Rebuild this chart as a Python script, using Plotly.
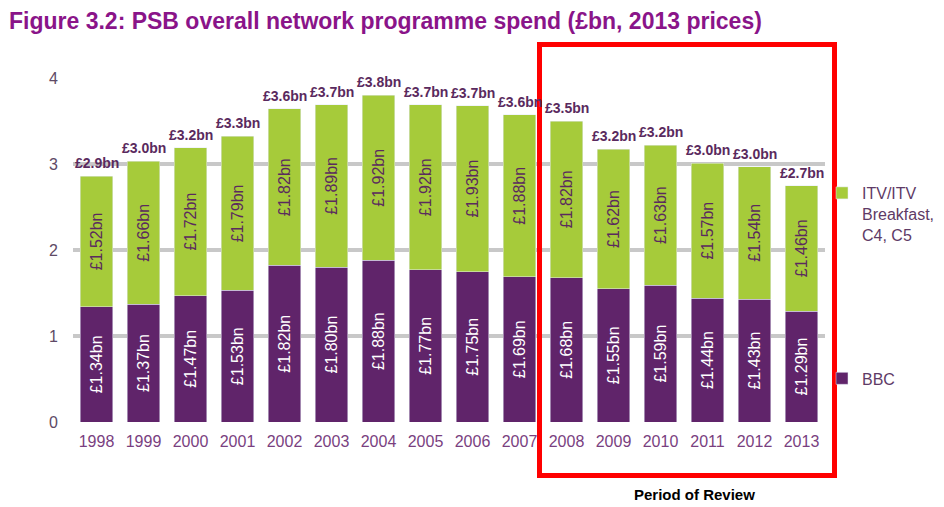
import plotly.graph_objects as go

years = ["1998", "1999", "2000", "2001", "2002", "2003", "2004", "2005",
         "2006", "2007", "2008", "2009", "2010", "2011", "2012", "2013"]
bbc = [1.34, 1.37, 1.47, 1.53, 1.82, 1.80, 1.88, 1.77, 1.75, 1.69, 1.68, 1.55, 1.59, 1.44, 1.43, 1.29]
itv = [1.52, 1.66, 1.72, 1.79, 1.82, 1.89, 1.92, 1.92, 1.93, 1.88, 1.82, 1.62, 1.63, 1.57, 1.54, 1.46]
total_labels = ["£2.9bn", "£3.0bn", "£3.2bn", "£3.3bn", "£3.6bn", "£3.7bn", "£3.8bn", "£3.7bn",
                "£3.7bn", "£3.6bn", "£3.5bn", "£3.2bn", "£3.2bn", "£3.0bn", "£3.0bn", "£2.7bn"]

GREEN = "#a6cb3a"
PURPLE = "#60246a"
FONT = "Arial, Liberation Sans, sans-serif"

# figure geometry (page body has an 8px margin)
W, H = 936, 499
L, T, PW, PH = 65, 70, 752, 344
B = H - T - PH
R = W - L - PW


def px(fx):
    return (fx - L) / PW


def py(fy):
    return (T + PH - fy) / PH


fig = go.Figure()
fig.add_trace(go.Bar(
    x=years, y=bbc, name="BBC", marker_color=PURPLE, legendgroup="bbc", legendrank=2,
    text=[f"£{v:.2f}bn" for v in bbc], textposition="inside", textangle=-90,
    insidetextanchor="middle", constraintext="none",
    textfont=dict(color="white", size=16, family=FONT),
))
fig.add_trace(go.Bar(
    x=years, y=itv, name="ITV/ITV<br>Breakfast,<br>C4, C5", marker_color=GREEN,
    legendgroup="itv", legendrank=1,
    text=[f"£{v:.2f}bn" for v in itv], textposition="inside", textangle=-90,
    insidetextanchor="middle", constraintext="none",
    textfont=dict(color="#5a2a5e", size=16, family=FONT),
))

totals = [b + i for b, i in zip(bbc, itv)]
for idx, (t, lab) in enumerate(zip(totals, total_labels)):
    fig.add_annotation(x=idx, y=t, text=f"<b>{lab}</b>", showarrow=False,
                       yanchor="bottom", yshift=3,
                       font=dict(size=14, color="#5a2a5e", family=FONT))

fig.add_annotation(xref="paper", yref="paper", x=px(686), y=py(486),
                   xanchor="center", yanchor="middle",
                   text="<b>Period of Review</b>", showarrow=False,
                   font=dict(size=15, color="black", family=FONT))

fig.add_shape(type="rect", xref="paper", yref="paper",
              x0=px(531.5), x1=px(826.5), y0=py(467.5), y1=py(36.5),
              line=dict(color="#ff0000", width=5), layer="above")

fig.update_layout(
    barmode="stack", bargap=0.3,
    width=W, height=H,
    margin=dict(l=L, r=R, t=T, b=B, autoexpand=False),
    paper_bgcolor="white", plot_bgcolor="white",
    font=dict(family=FONT),
    title=dict(text="<b>Figure 3.2: PSB overall network programme spend (£bn, 2013 prices)</b>",
               xref="container", x=1 / W, xanchor="left", yref="container",
               y=1 - 13 / H, yanchor="middle",
               font=dict(size=23, color="#8a1489", family=FONT)),
    legend=dict(x=px(814), y=py(168), xanchor="left", yanchor="top",
                traceorder="grouped", tracegroupgap=120, valign="top",
                font=dict(size=16, color="#5e3a66", family=FONT),
                itemwidth=30, bgcolor="rgba(0,0,0,0)"),
    xaxis=dict(type="category", range=[-0.5, len(years) - 0.5], showgrid=False,
               showline=False, ticks="", ticklabelstandoff=8,
               tickfont=dict(size=16, color="#7a3f7f", family=FONT)),
    yaxis=dict(range=[0, 4], dtick=1, showgrid=True, gridcolor="#c8c8c8", gridwidth=4,
               zeroline=False, showline=False, ticks="", ticklabelstandoff=14,
               tickfont=dict(size=16, color="#5e4a66", family=FONT)),
)

fig.write_html("out.html")
